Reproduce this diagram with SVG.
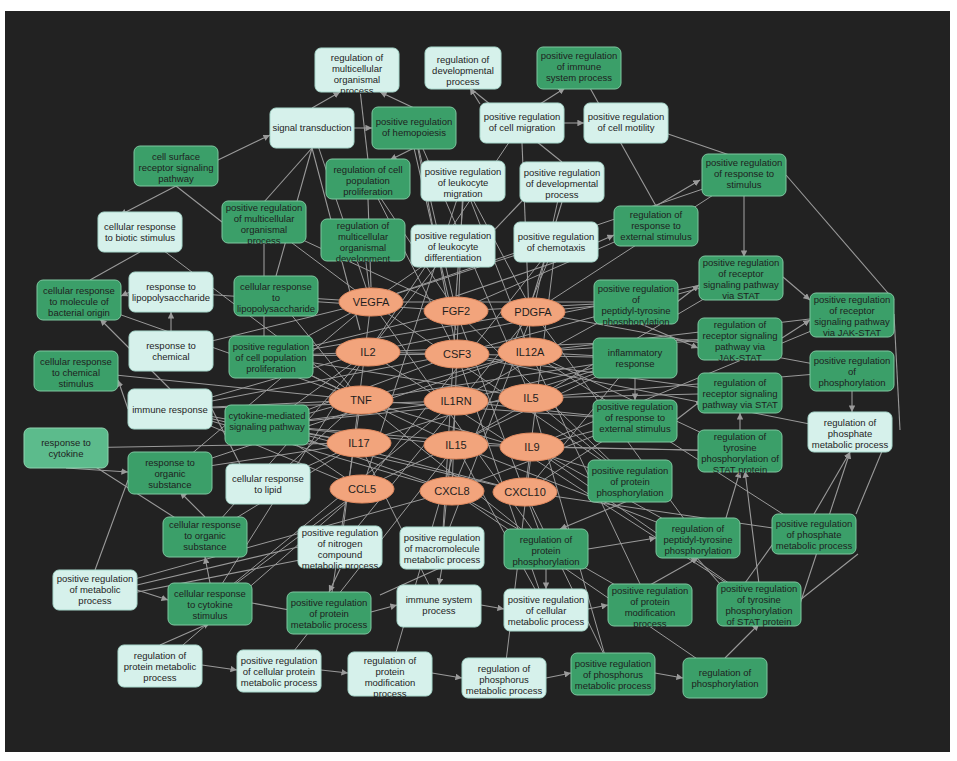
<svg xmlns="http://www.w3.org/2000/svg" width="957" height="761" viewBox="0 0 957 761">
<style>
.d{fill:#3b9f69;stroke:#7fc7a0;stroke-width:1}
.l{fill:#d6f1eb;stroke:#a8d8cc;stroke-width:1}
.m{fill:#5cbb8c;stroke:#8fd4b0;stroke-width:1}
.g{fill:#f2a47c;stroke:#e08a60;stroke-width:1}
text{font-family:"Liberation Sans",Arial,sans-serif;font-size:9.5px;fill:#1e1e1e;text-anchor:middle}
.gt{font-size:11px}
#edges line{stroke:#9a9a9a;stroke-width:1.1}
#edges .a{marker-end:url(#ar)}
</style>
<defs><marker id="ar" viewBox="0 0 10 10" refX="10" refY="5" markerWidth="6" markerHeight="6" orient="auto"><path d="M0,0L10,5L0,10z" fill="#9a9a9a"/></marker></defs>
<rect width="957" height="761" fill="#fff"/>
<rect x="5" y="11" width="945" height="741" fill="#222"/>
<g id="edges">
<line class="a" x1="218" y1="160" x2="270" y2="135"/>
<line class="a" x1="354" y1="128" x2="372" y2="128"/>
<line class="a" x1="564" y1="123" x2="584" y2="123"/>
<line class="a" x1="312" y1="108" x2="340" y2="92"/>
<line class="a" x1="414" y1="108" x2="380" y2="92"/>
<line class="a" x1="480" y1="104" x2="470" y2="88"/>
<line class="a" x1="540" y1="104" x2="565" y2="88"/>
<line class="a" x1="176" y1="186" x2="120" y2="215"/>
<line class="a" x1="170" y1="389" x2="100" y2="319"/>
<line class="a" x1="66" y1="468" x2="128" y2="472"/>
<line class="a" x1="128" y1="409" x2="118" y2="380"/>
<line class="a" x1="171" y1="331" x2="171" y2="312"/>
<line class="a" x1="130" y1="292" x2="121" y2="296"/>
<line class="a" x1="210" y1="583" x2="205" y2="557"/>
<line class="a" x1="205" y1="517" x2="180" y2="492"/>
<line class="a" x1="137" y1="590" x2="168" y2="600"/>
<line class="a" x1="744" y1="195" x2="744" y2="257"/>
<line class="a" x1="783" y1="277" x2="810" y2="300"/>
<line class="a" x1="782" y1="338" x2="810" y2="320"/>
<line class="a" x1="852" y1="391" x2="852" y2="412"/>
<line class="a" x1="740" y1="431" x2="740" y2="413"/>
<line class="a" x1="759" y1="584" x2="745" y2="471"/>
<line class="a" x1="800" y1="604" x2="850" y2="452"/>
<line class="a" x1="720" y1="538" x2="740" y2="471"/>
<line class="a" x1="814" y1="514" x2="850" y2="452"/>
<line class="a" x1="725" y1="658" x2="759" y2="624"/>
<line class="a" x1="650" y1="585" x2="698" y2="558"/>
<line class="a" x1="588" y1="609" x2="608" y2="605"/>
<line class="a" x1="655" y1="673" x2="683" y2="678"/>
<line class="a" x1="546" y1="678" x2="571" y2="673"/>
<line class="a" x1="432" y1="673" x2="462" y2="678"/>
<line class="a" x1="321" y1="670" x2="348" y2="673"/>
<line class="a" x1="202" y1="665" x2="237" y2="670"/>
<line class="a" x1="160" y1="645" x2="210" y2="623"/>
<line class="a" x1="371" y1="612" x2="397" y2="605"/>
<line class="a" x1="481" y1="605" x2="504" y2="609"/>
<line class="a" x1="341" y1="567" x2="329" y2="592"/>
<line class="a" x1="442" y1="567" x2="439" y2="585"/>
<line class="a" x1="546" y1="569" x2="546" y2="589"/>
<line class="a" x1="588" y1="549" x2="656" y2="538"/>
<line class="a" x1="630" y1="500" x2="560" y2="529"/>
<line class="a" x1="656" y1="206" x2="700" y2="180"/>
<line class="a" x1="598" y1="242" x2="614" y2="235"/>
<line class="a" x1="414" y1="148" x2="390" y2="160"/>
<line class="a" x1="636" y1="322" x2="698" y2="348"/>
<line class="a" x1="677" y1="302" x2="699" y2="285"/>
<line class="a" x1="676" y1="420" x2="702" y2="400"/>
<line class="a" x1="635" y1="378" x2="635" y2="400"/>
<line x1="222" y1="222" x2="176" y2="186"/>
<line x1="264" y1="242" x2="264" y2="336"/>
<line x1="312" y1="148" x2="276" y2="276"/>
<line x1="97" y1="600" x2="300" y2="560"/>
<line x1="137" y1="585" x2="298" y2="547"/>
<line x1="95" y1="570" x2="128" y2="480"/>
<line x1="252" y1="603" x2="300" y2="612"/>
<line x1="380" y1="595" x2="442" y2="567"/>
<line x1="697" y1="558" x2="720" y2="584"/>
<line x1="780" y1="534" x2="740" y2="590"/>
<line x1="858" y1="554" x2="800" y2="600"/>
<line x1="890" y1="432" x2="856" y2="514"/>
<line x1="894" y1="314" x2="900" y2="430"/>
<line x1="786" y1="175" x2="894" y2="300"/>
<line x1="90" y1="280" x2="140" y2="252"/>
<line x1="205" y1="537" x2="66" y2="448"/>
<line x1="250" y1="484" x2="212" y2="409"/>
<line x1="480" y1="245" x2="540" y2="182"/>
<line x1="360" y1="90" x2="368" y2="160"/>
<line x1="470" y1="88" x2="562" y2="162"/>
<line x1="590" y1="88" x2="656" y2="206"/>
<line x1="636" y1="123" x2="744" y2="160"/>
<line x1="312" y1="148" x2="264" y2="202"/>
<line x1="312" y1="148" x2="360" y2="330"/>
<line x1="414" y1="148" x2="456" y2="330"/>
<line x1="522" y1="143" x2="530" y2="338"/>
<line x1="463" y1="201" x2="456" y2="296"/>
<line x1="562" y1="202" x2="533" y2="297"/>
<line x1="368" y1="199" x2="371" y2="287"/>
<line x1="556" y1="262" x2="456" y2="296"/>
</g>
<g id="gene-edges">
<path fill="none" stroke="#9a9a9a" stroke-width="1" d="
M371,302L264,222 M371,302L363,240 M371,302L453,245 M371,302L556,242 M371,302L276,296 M371,302L271,356 M371,302L636,302 M371,302L630,480 M371,302L546,549 M371,302L341,547 M371,302L312,128 M371,302L171,351 M371,302L170,472 M371,302L744,175
M456,311L368,179 M456,311L414,128 M456,311L264,222 M456,311L271,356 M456,311L630,480 M456,311L546,549 M456,311L442,547 M456,311L636,302 M456,311L651,226 M456,311L171,292
M533,312L562,182 M533,312L463,181 M533,312L271,356 M533,312L636,302 M533,312L698,538 M533,312L442,547 M533,312L341,547 M533,312L744,175 M533,312L852,371
M368,352L271,356 M368,352L267,425 M368,352L170,409 M368,352L635,358 M368,352L741,277 M368,352L740,338 M368,352L453,245 M368,352L205,537 M368,352L210,603 M368,352L759,604 M368,352L522,123
M457,354L414,128 M457,354L368,179 M457,354L271,356 M457,354L267,425 M457,354L170,409 M457,354L740,393 M457,354L850,432 M457,354L741,277 M457,354L546,609
M530,352L463,181 M530,352L635,358 M530,352L740,338 M530,352L852,314 M530,352L740,451 M530,352L267,425 M530,352L170,472 M530,352L650,605 M530,352L814,534
M361,400L271,356 M361,400L276,296 M361,400L170,409 M361,400L635,358 M361,400L635,420 M361,400L76,371 M361,400L79,300 M361,400L268,484 M361,400L630,480 M361,400L546,549 M361,400L329,612 M361,400L139,232
M456,401L267,425 M456,401L170,409 M456,401L635,358 M456,401L635,420 M456,401L210,603 M456,401L442,547 M456,401L636,302
M531,398L414,128 M531,398L271,356 M531,398L267,425 M531,398L635,358 M531,398L740,393 M531,398L852,371 M531,398L630,480 M531,398L610,673
M359,443L267,425 M359,443L170,409 M359,443L635,358 M359,443L268,484 M359,443L205,537 M359,443L66,448 M359,443L170,472 M359,443L439,605
M456,445L267,425 M456,445L271,356 M456,445L741,277 M456,445L740,451 M456,445L698,538 M456,445L546,609 M456,445L390,673 M456,445L279,670
M532,447L267,425 M532,447L635,420 M532,447L740,451 M532,447L852,314 M532,447L698,538 M532,447L759,604 M532,447L504,678
M362,489L170,409 M362,489L267,425 M362,489L635,358 M362,489L463,181 M362,489L556,242 M362,489L210,603 M362,489L160,665
M452,491L170,409 M452,491L267,425 M452,491L635,420 M452,491L556,242 M452,491L463,181 M452,491L650,605 M452,491L725,678 M452,491L95,590
M525,492L170,409 M525,492L267,425 M525,492L635,358 M525,492L556,242 M525,492L635,420 M525,492L814,534 M525,492L613,673"/>
</g>
<g id="n1"><rect class="l" x="315" y="48" width="84" height="44" rx="6"/><text><tspan x="357" y="61">regulation of</tspan><tspan x="357" y="72">multicellular</tspan><tspan x="357" y="83">organismal</tspan><tspan x="357" y="94">process</tspan></text></g>
<g id="n2"><rect class="l" x="425" y="47" width="76" height="42" rx="6"/><text><tspan x="463" y="63">regulation of</tspan><tspan x="463" y="74">developmental</tspan><tspan x="463" y="85">process</tspan></text></g>
<g id="n3"><rect class="d" x="537" y="47" width="84" height="42" rx="6"/><text><tspan x="579" y="59">positive regulation</tspan><tspan x="579" y="70">of immune</tspan><tspan x="579" y="81">system process</tspan></text></g>
<g id="n4"><rect class="l" x="270" y="108" width="84" height="40" rx="6"/><text><tspan x="312" y="131">signal transduction</tspan></text></g>
<g id="n5"><rect class="d" x="372" y="107" width="84" height="42" rx="6"/><text><tspan x="414" y="125">positive regulation</tspan><tspan x="414" y="136">of hemopoiesis</tspan></text></g>
<g id="n6"><rect class="l" x="480" y="103" width="84" height="40" rx="6"/><text><tspan x="522" y="120">positive regulation</tspan><tspan x="522" y="131">of cell migration</tspan></text></g>
<g id="n7"><rect class="l" x="584" y="103" width="84" height="40" rx="6"/><text><tspan x="626" y="120">positive regulation</tspan><tspan x="626" y="131">of cell motility</tspan></text></g>
<g id="n8"><rect class="d" x="134" y="146" width="84" height="40" rx="6"/><text><tspan x="176" y="160">cell surface</tspan><tspan x="176" y="171">receptor signaling</tspan><tspan x="176" y="182">pathway</tspan></text></g>
<g id="n9"><rect class="d" x="326" y="159" width="84" height="40" rx="6"/><text><tspan x="368" y="173">regulation of cell</tspan><tspan x="368" y="184">population</tspan><tspan x="368" y="195">proliferation</tspan></text></g>
<g id="n10"><rect class="l" x="421" y="161" width="84" height="40" rx="6"/><text><tspan x="463" y="175">positive regulation</tspan><tspan x="463" y="186">of leukocyte</tspan><tspan x="463" y="197">migration</tspan></text></g>
<g id="n11"><rect class="l" x="520" y="162" width="84" height="40" rx="6"/><text><tspan x="562" y="176">positive regulation</tspan><tspan x="562" y="187">of developmental</tspan><tspan x="562" y="198">process</tspan></text></g>
<g id="n12"><rect class="d" x="702" y="154" width="84" height="42" rx="6"/><text><tspan x="744" y="166">positive regulation</tspan><tspan x="744" y="177">of response to</tspan><tspan x="744" y="188">stimulus</tspan></text></g>
<g id="n13"><rect class="d" x="222" y="201" width="84" height="42" rx="6"/><text><tspan x="264" y="211">positive regulation</tspan><tspan x="264" y="222">of multicellular</tspan><tspan x="264" y="233">organismal</tspan><tspan x="264" y="244">process</tspan></text></g>
<g id="n14"><rect class="d" x="321" y="219" width="84" height="42" rx="6"/><text><tspan x="363" y="229">regulation of</tspan><tspan x="363" y="240">multicellular</tspan><tspan x="363" y="251">organismal</tspan><tspan x="363" y="262">development</tspan></text></g>
<g id="n15"><rect class="l" x="411" y="225" width="84" height="42" rx="6"/><text><tspan x="453" y="239">positive regulation</tspan><tspan x="453" y="250">of leukocyte</tspan><tspan x="453" y="261">differentiation</tspan></text></g>
<g id="n16"><rect class="l" x="514" y="222" width="84" height="40" rx="6"/><text><tspan x="556" y="240">positive regulation</tspan><tspan x="556" y="251">of chemotaxis</tspan></text></g>
<g id="n17"><rect class="d" x="614" y="206" width="84" height="40" rx="6"/><text><tspan x="656" y="218">regulation of</tspan><tspan x="656" y="229">response to</tspan><tspan x="656" y="240">external stimulus</tspan></text></g>
<g id="n18"><rect class="l" x="98" y="212" width="84" height="40" rx="6"/><text><tspan x="140" y="230">cellular response</tspan><tspan x="140" y="241">to biotic stimulus</tspan></text></g>
<g id="n19"><rect class="l" x="129" y="272" width="84" height="40" rx="6"/><text><tspan x="171" y="290">response to</tspan><tspan x="171" y="301">lipopolysaccharide</tspan></text></g>
<g id="n20"><rect class="d" x="234" y="276" width="84" height="40" rx="6"/><text><tspan x="276" y="290">cellular response</tspan><tspan x="276" y="301">to</tspan><tspan x="276" y="312">lipopolysaccharide</tspan></text></g>
<g id="n21"><rect class="d" x="37" y="280" width="84" height="40" rx="6"/><text><tspan x="79" y="294">cellular response</tspan><tspan x="79" y="305">to molecule of</tspan><tspan x="79" y="316">bacterial origin</tspan></text></g>
<g id="n22"><rect class="d" x="594" y="280" width="84" height="44" rx="6"/><text><tspan x="636" y="292">positive regulation</tspan><tspan x="636" y="303">of</tspan><tspan x="636" y="314">peptidyl-tyrosine</tspan><tspan x="636" y="325">phosphorylation</tspan></text></g>
<g id="n23"><rect class="d" x="699" y="256" width="84" height="44" rx="6"/><text><tspan x="741" y="266">positive regulation</tspan><tspan x="741" y="277">of receptor</tspan><tspan x="741" y="288">signaling pathway</tspan><tspan x="741" y="299">via STAT</tspan></text></g>
<g id="n24"><rect class="d" x="810" y="293" width="84" height="44" rx="6"/><text><tspan x="852" y="303">positive regulation</tspan><tspan x="852" y="314">of receptor</tspan><tspan x="852" y="325">signaling pathway</tspan><tspan x="852" y="336">via JAK-STAT</tspan></text></g>
<g id="n25"><rect class="l" x="129" y="331" width="84" height="40" rx="6"/><text><tspan x="171" y="349">response to</tspan><tspan x="171" y="360">chemical</tspan></text></g>
<g id="n26"><rect class="d" x="229" y="336" width="84" height="42" rx="6"/><text><tspan x="271" y="350">positive regulation</tspan><tspan x="271" y="361">of cell population</tspan><tspan x="271" y="372">proliferation</tspan></text></g>
<g id="n27"><rect class="d" x="34" y="351" width="84" height="40" rx="6"/><text><tspan x="76" y="365">cellular response</tspan><tspan x="76" y="376">to chemical</tspan><tspan x="76" y="387">stimulus</tspan></text></g>
<g id="n28"><rect class="d" x="593" y="338" width="84" height="40" rx="6"/><text><tspan x="635" y="356">inflammatory</tspan><tspan x="635" y="367">response</tspan></text></g>
<g id="n29"><rect class="d" x="698" y="318" width="84" height="42" rx="6"/><text><tspan x="740" y="328">regulation of</tspan><tspan x="740" y="339">receptor signaling</tspan><tspan x="740" y="350">pathway via</tspan><tspan x="740" y="361">JAK-STAT</tspan></text></g>
<g id="n30"><rect class="d" x="810" y="351" width="84" height="40" rx="6"/><text><tspan x="852" y="364">positive regulation</tspan><tspan x="852" y="375">of</tspan><tspan x="852" y="386">phosphorylation</tspan></text></g>
<g id="n31"><rect class="l" x="128" y="389" width="84" height="40" rx="6"/><text><tspan x="170" y="413">immune response</tspan></text></g>
<g id="n32"><rect class="d" x="225" y="405" width="84" height="40" rx="6"/><text><tspan x="267" y="419">cytokine-mediated</tspan><tspan x="267" y="430">signaling pathway</tspan></text></g>
<g id="n33"><rect class="d" x="698" y="373" width="84" height="40" rx="6"/><text><tspan x="740" y="386">regulation of</tspan><tspan x="740" y="397">receptor signaling</tspan><tspan x="740" y="408">pathway via STAT</tspan></text></g>
<g id="n34"><rect class="d" x="593" y="400" width="84" height="42" rx="6"/><text><tspan x="635" y="410">positive regulation</tspan><tspan x="635" y="421">of response to</tspan><tspan x="635" y="432">external stimulus</tspan></text></g>
<g id="n35"><rect class="l" x="808" y="412" width="84" height="40" rx="6"/><text><tspan x="850" y="426">regulation of</tspan><tspan x="850" y="437">phosphate</tspan><tspan x="850" y="448">metabolic process</tspan></text></g>
<g id="n36"><rect class="m" x="24" y="428" width="84" height="40" rx="6"/><text><tspan x="66" y="446">response to</tspan><tspan x="66" y="457">cytokine</tspan></text></g>
<g id="n37"><rect class="d" x="128" y="452" width="84" height="42" rx="6"/><text><tspan x="170" y="466">response to</tspan><tspan x="170" y="477">organic</tspan><tspan x="170" y="488">substance</tspan></text></g>
<g id="n38"><rect class="l" x="226" y="464" width="84" height="40" rx="6"/><text><tspan x="268" y="482">cellular response</tspan><tspan x="268" y="493">to lipid</tspan></text></g>
<g id="n39"><rect class="d" x="698" y="430" width="84" height="42" rx="6"/><text><tspan x="740" y="440">regulation of</tspan><tspan x="740" y="451">tyrosine</tspan><tspan x="740" y="462">phosphorylation of</tspan><tspan x="740" y="473">STAT protein</tspan></text></g>
<g id="n40"><rect class="d" x="588" y="460" width="84" height="42" rx="6"/><text><tspan x="630" y="474">positive regulation</tspan><tspan x="630" y="485">of protein</tspan><tspan x="630" y="496">phosphorylation</tspan></text></g>
<g id="n41"><rect class="d" x="163" y="517" width="84" height="40" rx="6"/><text><tspan x="205" y="528">cellular response</tspan><tspan x="205" y="539">to organic</tspan><tspan x="205" y="550">substance</tspan></text></g>
<g id="n42"><rect class="l" x="298" y="526" width="84" height="42" rx="6"/><text><tspan x="340" y="536">positive regulation</tspan><tspan x="340" y="547">of nitrogen</tspan><tspan x="340" y="558">compound</tspan><tspan x="340" y="569">metabolic process</tspan></text></g>
<g id="n43"><rect class="l" x="400" y="527" width="84" height="42" rx="6"/><text><tspan x="442" y="541">positive regulation</tspan><tspan x="442" y="552">of macromolecule</tspan><tspan x="442" y="563">metabolic process</tspan></text></g>
<g id="n44"><rect class="d" x="504" y="529" width="84" height="40" rx="6"/><text><tspan x="546" y="543">regulation of</tspan><tspan x="546" y="554">protein</tspan><tspan x="546" y="565">phosphorylation</tspan></text></g>
<g id="n45"><rect class="d" x="656" y="518" width="84" height="40" rx="6"/><text><tspan x="698" y="532">regulation of</tspan><tspan x="698" y="543">peptidyl-tyrosine</tspan><tspan x="698" y="554">phosphorylation</tspan></text></g>
<g id="n46"><rect class="d" x="772" y="514" width="84" height="40" rx="6"/><text><tspan x="814" y="527">positive regulation</tspan><tspan x="814" y="538">of phosphate</tspan><tspan x="814" y="549">metabolic process</tspan></text></g>
<g id="n47"><rect class="l" x="53" y="570" width="84" height="40" rx="6"/><text><tspan x="95" y="582">positive regulation</tspan><tspan x="95" y="593">of metabolic</tspan><tspan x="95" y="604">process</tspan></text></g>
<g id="n48"><rect class="d" x="168" y="583" width="84" height="42" rx="6"/><text><tspan x="210" y="597">cellular response</tspan><tspan x="210" y="608">to cytokine</tspan><tspan x="210" y="619">stimulus</tspan></text></g>
<g id="n49"><rect class="d" x="287" y="592" width="84" height="42" rx="6"/><text><tspan x="329" y="606">positive regulation</tspan><tspan x="329" y="617">of protein</tspan><tspan x="329" y="628">metabolic process</tspan></text></g>
<g id="n50"><rect class="l" x="397" y="585" width="84" height="42" rx="6"/><text><tspan x="439" y="603">immune system</tspan><tspan x="439" y="614">process</tspan></text></g>
<g id="n51"><rect class="l" x="504" y="589" width="84" height="42" rx="6"/><text><tspan x="546" y="603">positive regulation</tspan><tspan x="546" y="614">of cellular</tspan><tspan x="546" y="625">metabolic process</tspan></text></g>
<g id="n52"><rect class="d" x="608" y="584" width="84" height="42" rx="6"/><text><tspan x="650" y="594">positive regulation</tspan><tspan x="650" y="605">of protein</tspan><tspan x="650" y="616">modification</tspan><tspan x="650" y="627">process</tspan></text></g>
<g id="n53"><rect class="d" x="717" y="582" width="84" height="44" rx="6"/><text><tspan x="759" y="592">positive regulation</tspan><tspan x="759" y="603">of tyrosine</tspan><tspan x="759" y="614">phosphorylation</tspan><tspan x="759" y="625">of STAT protein</tspan></text></g>
<g id="n54"><rect class="l" x="118" y="645" width="84" height="42" rx="6"/><text><tspan x="160" y="659">regulation of</tspan><tspan x="160" y="670">protein metabolic</tspan><tspan x="160" y="681">process</tspan></text></g>
<g id="n55"><rect class="l" x="237" y="650" width="84" height="42" rx="6"/><text><tspan x="279" y="664">positive regulation</tspan><tspan x="279" y="675">of cellular protein</tspan><tspan x="279" y="686">metabolic process</tspan></text></g>
<g id="n56"><rect class="l" x="348" y="652" width="84" height="44" rx="6"/><text><tspan x="390" y="664">regulation of</tspan><tspan x="390" y="675">protein</tspan><tspan x="390" y="686">modification</tspan><tspan x="390" y="697">process</tspan></text></g>
<g id="n57"><rect class="l" x="462" y="658" width="84" height="40" rx="6"/><text><tspan x="504" y="672">regulation of</tspan><tspan x="504" y="683">phosphorus</tspan><tspan x="504" y="694">metabolic process</tspan></text></g>
<g id="n58"><rect class="d" x="571" y="653" width="84" height="42" rx="6"/><text><tspan x="613" y="667">positive regulation</tspan><tspan x="613" y="678">of phosphorus</tspan><tspan x="613" y="689">metabolic process</tspan></text></g>
<g id="n59"><rect class="d" x="683" y="658" width="84" height="40" rx="6"/><text><tspan x="725" y="676">regulation of</tspan><tspan x="725" y="687">phosphorylation</tspan></text></g>
<g id="VEGFA"><ellipse class="g" cx="371" cy="302" rx="32" ry="14"/><text class="gt" x="371" y="306">VEGFA</text></g>
<g id="FGF2"><ellipse class="g" cx="456" cy="311" rx="32" ry="14"/><text class="gt" x="456" y="315">FGF2</text></g>
<g id="PDGFA"><ellipse class="g" cx="533" cy="312" rx="32" ry="14"/><text class="gt" x="533" y="316">PDGFA</text></g>
<g id="IL2"><ellipse class="g" cx="368" cy="352" rx="32" ry="14"/><text class="gt" x="368" y="356">IL2</text></g>
<g id="CSF3"><ellipse class="g" cx="457" cy="354" rx="32" ry="14"/><text class="gt" x="457" y="358">CSF3</text></g>
<g id="IL12A"><ellipse class="g" cx="530" cy="352" rx="32" ry="14"/><text class="gt" x="530" y="356">IL12A</text></g>
<g id="TNF"><ellipse class="g" cx="361" cy="400" rx="32" ry="14"/><text class="gt" x="361" y="404">TNF</text></g>
<g id="IL1RN"><ellipse class="g" cx="456" cy="401" rx="32" ry="14"/><text class="gt" x="456" y="405">IL1RN</text></g>
<g id="IL5"><ellipse class="g" cx="531" cy="398" rx="32" ry="14"/><text class="gt" x="531" y="402">IL5</text></g>
<g id="IL17"><ellipse class="g" cx="359" cy="443" rx="32" ry="14"/><text class="gt" x="359" y="447">IL17</text></g>
<g id="IL15"><ellipse class="g" cx="456" cy="445" rx="32" ry="14"/><text class="gt" x="456" y="449">IL15</text></g>
<g id="IL9"><ellipse class="g" cx="532" cy="447" rx="32" ry="14"/><text class="gt" x="532" y="451">IL9</text></g>
<g id="CCL5"><ellipse class="g" cx="362" cy="489" rx="32" ry="14"/><text class="gt" x="362" y="493">CCL5</text></g>
<g id="CXCL8"><ellipse class="g" cx="452" cy="491" rx="32" ry="14"/><text class="gt" x="452" y="495">CXCL8</text></g>
<g id="CXCL10"><ellipse class="g" cx="525" cy="492" rx="32" ry="14"/><text class="gt" x="525" y="496">CXCL10</text></g>
</svg>
